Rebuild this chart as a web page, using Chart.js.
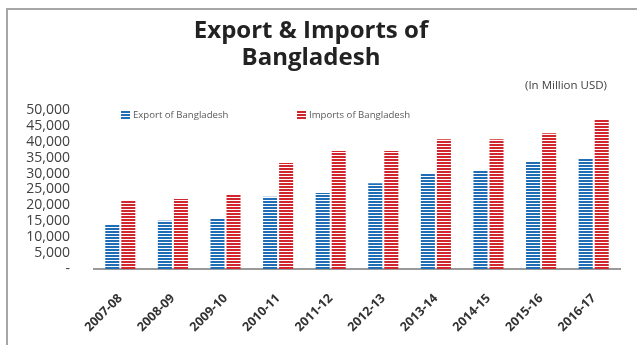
<!DOCTYPE html>
<html>
<head>
<meta charset="utf-8">
<script src="https://cdn.jsdelivr.net/npm/chart.js@4/dist/chart.umd.min.js"></script>
<style>
  html, body { margin: 0; padding: 0; background: #fff; }
  #wrap { position: relative; width: 637px; height: 345px; }
  #frame { position: absolute; left: 6px; top: 8px; right: 0; bottom: 0;
           border-left: 2px solid #a6a6a6; border-top: 2px solid #a6a6a6; }
  canvas { position: absolute; left: 0; top: 0; }
</style>
</head>
<body>
<div id="wrap">
  <div id="frame"></div>
  <canvas id="grafico" width="637" height="345"></canvas>
</div>
<script>
// fiscal years and values (million USD)
const anos = ['2007-08', '2008-09', '2009-10', '2010-11', '2011-12',
              '2012-13', '2013-14', '2014-15', '2015-16', '2016-17'];
const exportacoes = [14000, 15200, 15800, 22700, 23900, 27000, 30200, 30800, 33900, 34600];
const importacoes = [21500, 22000, 23300, 33300, 37100, 37100, 40800, 40800, 42700, 47100];
const ticksY = [0, 5000, 10000, 15000, 20000, 25000, 30000, 35000, 40000, 45000, 50000];

const nomes = ['Export of Bangladesh', 'Imports of Bangladesh'];
const azul = '#1f6db4';
const vermelho = '#d1262d';

// horizontal stripe fill: 2px colour, 1px white
function listras(cor) {
    const c = document.createElement('canvas');
    c.width = 4; c.height = 3;
    const g = c.getContext('2d');
    g.fillStyle = '#fff';
    g.fillRect(0, 0, 4, 3);
    g.fillStyle = cor;
    g.fillRect(0, 0, 4, 2);
    return g.createPattern(c, 'repeat');
}

const fonte = '"Open Sans", "Noto Sans", sans-serif';

// title, unit note and legend
const extras = {
    id: 'extras',
    afterDraw(chart) {
        const ctx = chart.ctx;
        ctx.save();
        ctx.fillStyle = '#222';
        ctx.font = 'bold 24px ' + fonte;
        ctx.textAlign = 'center';
        ctx.textBaseline = 'middle';
        ctx.fillText('Export & Imports of', 311, 31);
        ctx.fillText('Bangladesh', 311, 58);

        ctx.font = '11.5px ' + fonte;
        ctx.fillStyle = '#404040';
        ctx.textAlign = 'right';
        ctx.fillText('(In Million USD)', 607, 86);

        ctx.font = '9.6px ' + fonte;
        ctx.textAlign = 'left';
        const posicoes = [121, 297];
        chart.data.datasets.forEach((ds, i) => {
            const x = posicoes[i];
            ctx.fillStyle = ds.backgroundColor;
            ctx.fillRect(x, 111, 9, 8);
            ctx.fillStyle = '#595959';
            ctx.fillText(ds.label, x + 12, 115);
        });
        ctx.restore();
    }
};

new Chart(document.getElementById('grafico'), {
    type: 'bar',
    data: {
        labels: anos,
        datasets: [
            { label: nomes[0], data: exportacoes, backgroundColor: listras(azul) },
            { label: nomes[1], data: importacoes, backgroundColor: listras(vermelho) }
        ]
    },
    options: {
        responsive: false,
        animation: false,
        devicePixelRatio: 1,
        layout: { padding: { top: 110, right: 17, left: 0, bottom: 0 } },
        datasets: { bar: { categoryPercentage: 0.61, barPercentage: 0.875 } },
        scales: {
            x: {
                grid: { drawOnChartArea: false, drawTicks: false },
                border: { color: '#999', width: 2 },
                ticks: {
                    color: '#333',
                    font: { family: fonte, size: 12.5, weight: 'bold' },
                    minRotation: 45, maxRotation: 45,
                    autoSkip: false,
                    padding: 22
                },
                afterFit(s) { s.height = 76; }
            },
            y: {
                min: 0, max: 50000,
                grid: { display: false, drawTicks: false },
                border: { display: false },
                afterBuildTicks(s) { s.ticks = ticksY.map(v => ({ value: v })); },
                ticks: {
                    color: '#404040',
                    font: { family: fonte, size: 14 },
                    padding: 24,
                    autoSkip: false,
                    callback: v => v === 0 ? '-' : v.toLocaleString('en-US')
                },
                afterFit(s) { s.width = 94; }
            }
        },
        plugins: {
            legend: { display: false },
            tooltip: { enabled: false }
        }
    },
    plugins: [extras]
});
</script>
</body>
</html>
